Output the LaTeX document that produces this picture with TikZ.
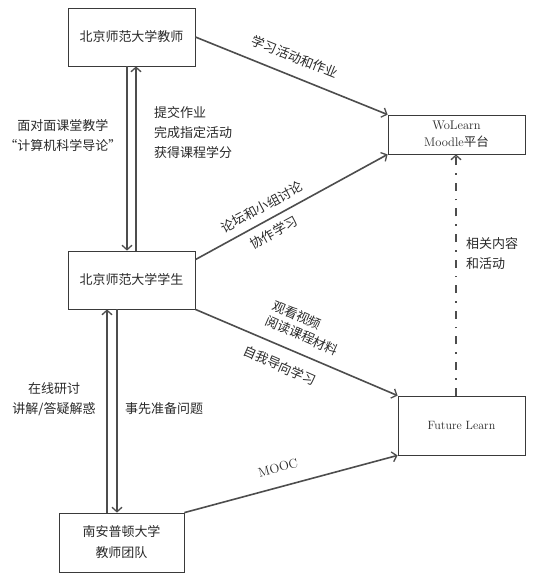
\documentclass[tikz,border=0pt]{standalone}
\usepackage{fontspec}
\newfontfamily\cjk{Noto Sans CJK SC}
\usetikzlibrary{arrows.meta}
\definecolor{linec}{HTML}{4D4D4D}
\definecolor{boxc}{HTML}{3A3A3A}
\definecolor{txtc}{HTML}{2A2A2A}
\begin{document}
\begin{tikzpicture}[x=1pt,y=-1pt,
  box/.style={draw=boxc, line width=0.8pt, inner sep=0pt, align=center, text=txtc,
    font=\cjk\fontsize{13}{21}\selectfont},
  conn/.style={draw=linec, line width=1.6pt,
    -{Straight Barb[length=4.5pt,width=10pt,line width=1.3pt]}},
  lbl/.style={inner sep=0pt, text=txtc, font=\cjk\fontsize{13}{20}\selectfont},
]
\fill[white] (0,0) rectangle (536,582);
\useasboundingbox (0,0) rectangle (536,582);

% boxes
\node[box, minimum width=127pt, minimum height=58pt] (teacher) at (131.5,37) {北京师范大学教师};
\node[box, minimum width=127pt, minimum height=58pt] (student) at (131.5,280) {北京师范大学学生};
\node[box, minimum width=125pt, minimum height=59pt] (bottom) at (121.5,542.5) {南安普顿大学\\教师团队};
\node[box, minimum width=137pt, minimum height=39pt, font=\rmfamily\fontsize{12.5}{17}\selectfont] (wolearn) at (456.5,134.5) {WoLearn\\Moodle{\cjk 平台}};
\node[box, minimum width=127pt, minimum height=59pt, font=\rmfamily\fontsize{12}{14}\selectfont] (fl) at (461.5,425.5) {Future Learn};

% connectors
\draw[conn] (teacher.east) -- (wolearn.north west);
\draw[conn] ([yshift=-9pt]student.north east) -- (wolearn.south west);
\draw[conn] (student.south east) -- (fl.north west);
\draw[conn] (bottom.north east) -- (fl.south west);
\draw[conn] ([xshift=-4.5pt]teacher.south) -- ([xshift=-4.5pt]student.north);
\draw[conn] ([xshift=4.5pt]student.north) -- ([xshift=4.5pt]teacher.south);
\draw[conn] ([xshift=-14.5pt]bottom.north) -- ([xshift=-24.5pt]student.south);
\draw[conn] ([xshift=-14.5pt]student.south) -- ([xshift=-4.5pt]bottom.north);
\draw[conn, line width=1.6pt, dash pattern=on 8pt off 8pt on 1.6pt off 8pt] ([xshift=-5.5pt]fl.north) -- ([xshift=-0.5pt]wolearn.south);

% labels
\node[lbl, rotate=-22] (l1) at (295,57) {学习活动和作业};
\node[lbl, rotate=28.5] (l2) at (262,207) {论坛和小组讨论};
\node[lbl, rotate=28.5] (l3) at (274,232.5) {协作学习};
\node[lbl, rotate=-23.7] (l4) at (297,315) {观看视频};
\node[lbl, rotate=-23.7] (l5) at (302,335.5) {阅读课程材料};
\node[lbl, rotate=-23.7] (l6) at (280,365.5) {自我导向学习};
\node[lbl, rotate=15.4, font=\rmfamily\fontsize{13}{14}\selectfont] (l7) at (278,468) {MOOC};
\node[lbl, align=center] (l8) at (63,136) {面对面课堂教学\\“计算机科学导论”};
\node[lbl, align=left, anchor=west] (l9) at (154,133) {提交作业\\完成指定活动\\获得课程学分};
\node[lbl, align=center] (l10) at (54,399.5) {在线研讨\\讲解/答疑解惑};
\node[lbl, anchor=west] (l11) at (125,409) {事先准备问题};
\node[lbl, align=left, anchor=west] (l12) at (466,254) {相关内容\\和活动};
\end{tikzpicture}
\end{document}
